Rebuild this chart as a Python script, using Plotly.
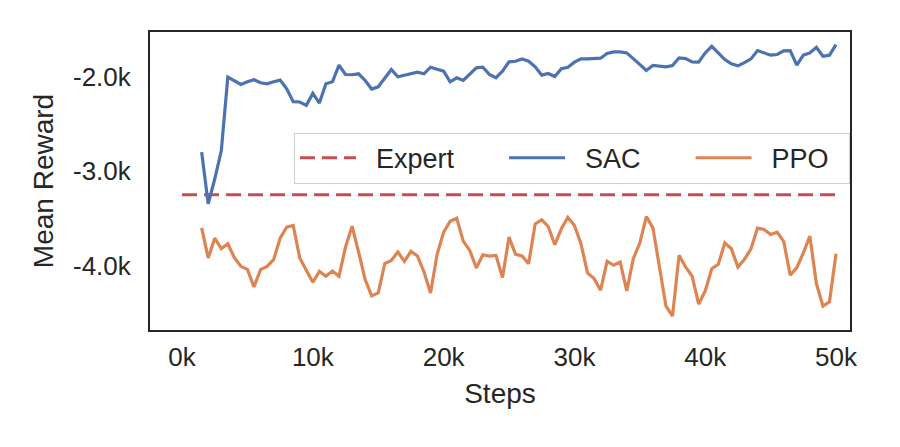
import plotly.graph_objects as go

steps = [1500 + 500 * i for i in range(98)]

sac = [-2800, -3347, -3084, -2786, -2007, -2049, -2084, -2056, -2035, -2066,
       -2077, -2056, -2039, -2130, -2267, -2270, -2305, -2179, -2281, -2077,
       -2056, -1881, -1979, -1982, -1972, -2042, -2133, -2109, -2014, -1926,
       -2004, -1990, -1972, -1954, -1972, -1902, -1923, -1944, -2056, -2014,
       -2042, -1972, -1909, -1902, -1979, -2014, -1944, -1846, -1839, -1814,
       -1839, -1898, -1986, -1968, -2000, -1919, -1902, -1849, -1814, -1814,
       -1811, -1807, -1758, -1740, -1740, -1751, -1811, -1874, -1937, -1884,
       -1895, -1898, -1884, -1803, -1811, -1846, -1849, -1751, -1681, -1751,
       -1821, -1867, -1888, -1853, -1814, -1726, -1751, -1775, -1768, -1730,
       -1726, -1881, -1775, -1751, -1691, -1786, -1775, -1663]

ppo = [-3600, -3919, -3709, -3821, -3768, -3916, -4007, -4039, -4224, -4042,
       -4007, -3937, -3709, -3593, -3575, -3919, -4049, -4175, -4060, -4112,
       -4056, -4112, -3803, -3582, -3856, -4147, -4319, -4288, -3979, -3944,
       -3856, -3954, -3849, -3898, -4067, -4288, -3881, -3646, -3530, -3498,
       -3740, -3839, -4024, -3884, -3898, -3891, -4126, -3698, -3881, -3898,
       -3979, -3558, -3516, -3586, -3779, -3610, -3488, -3575, -3768, -4077,
       -4137, -4260, -3954, -3996, -3961, -4267, -3926, -3761, -3481, -3600,
       -4014, -4428, -4533, -3891, -4014, -4112, -4407, -4267, -4032, -3986,
       -3758, -3821, -4014, -3933, -3821, -3603, -3617, -3670, -3646, -3744,
       -4102, -4021, -3866, -3688, -4189, -4428, -4382, -3874]

expert_value = -3250
expert_x = [0, 50000]

x_ticks = [0, 10000, 20000, 30000, 40000, 50000]
x_tick_labels = ["0k", "10k", "20k", "30k", "40k", "50k"]
y_ticks = [-4000, -3000, -2000]
y_tick_labels = ["-4.0k", "-3.0k", "-2.0k"]

FONT = "Liberation Sans, Arial, sans-serif"
TXT = "#262626"
NB = "\u00a0"

fig = go.Figure()
fig.add_trace(go.Scatter(x=expert_x, y=[expert_value, expert_value], mode="lines",
                         name=NB * 2 + "Expert" + NB * 6,
                         line=dict(color="#C44E52", width=3, dash="15px,7px")))
fig.add_trace(go.Scatter(x=steps, y=sac, mode="lines", name=NB * 2 + "SAC" + NB * 6,
                         line=dict(color="#4C72B0", width=3.2)))
fig.add_trace(go.Scatter(x=steps, y=ppo, mode="lines", name=NB * 2 + "PPO" + NB * 2,
                         line=dict(color="#DD8452", width=3.2)))

fig.update_layout(
    width=900, height=447,
    margin=dict(l=150, r=50, t=32, b=117),
    plot_bgcolor="white", paper_bgcolor="white",
    font=dict(family=FONT, size=25, color=TXT),
    showlegend=True,
    legend=dict(orientation="h", x=1.0, xanchor="right", y=0.662, yanchor="top",
                bgcolor="white", bordercolor="#d0d0d0", borderwidth=1,
                font=dict(size=27, color=TXT),
                itemwidth=56, tracegroupgap=0),
)
fig.update_xaxes(range=[-2450, 51070], tickvals=x_ticks, ticktext=x_tick_labels,
                 showgrid=False, zeroline=False, showline=True, linecolor=TXT,
                 linewidth=2, mirror=True, ticks="", ticklen=0, ticklabelstandoff=3,
                 title=dict(text="Steps", font=dict(size=28, color=TXT), standoff=12),
                 tickfont=dict(size=26, color=TXT))
fig.update_yaxes(range=[-4680, -1530], tickvals=y_ticks, ticktext=y_tick_labels,
                 showgrid=False, zeroline=False, showline=True, linecolor=TXT,
                 linewidth=2, mirror=True, ticks="", ticklen=0, ticklabelstandoff=12,
                 title=dict(text="Mean Reward", font=dict(size=28, color=TXT), standoff=11),
                 tickfont=dict(size=26, color=TXT))

fig.write_html("out.html")
